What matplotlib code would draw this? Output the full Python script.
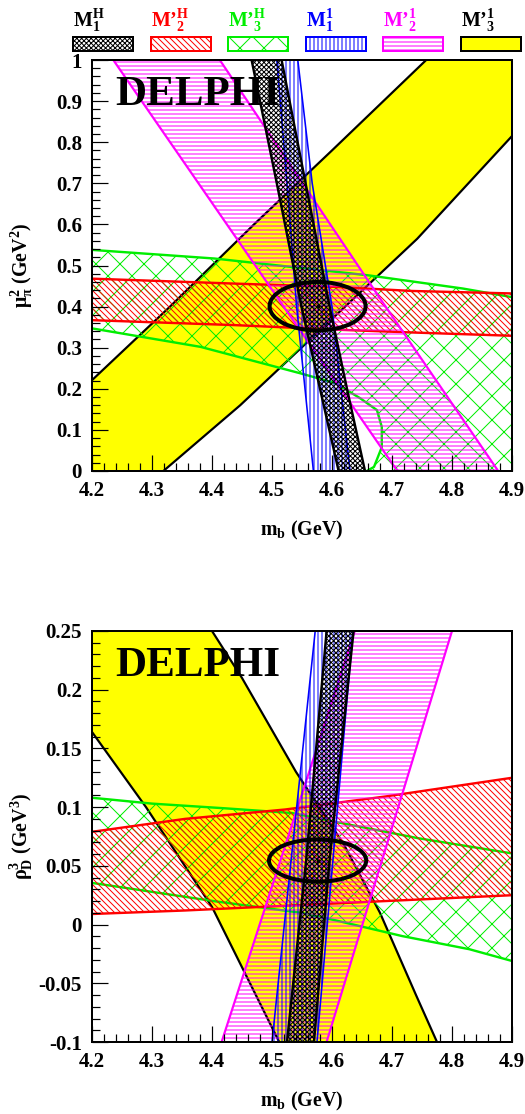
import matplotlib
matplotlib.use('Agg')
import matplotlib.pyplot as plt
from matplotlib.patches import Polygon, Ellipse, Rectangle
from matplotlib.ticker import FixedLocator, FixedFormatter, MultipleLocator

# ---------------- data ----------------
mb_range = [4.2, 4.9]
mu_range = [0.0, 1.0]
rho_range = [-0.1, 0.25]

mb_ticks = [4.2, 4.3, 4.4, 4.5, 4.6, 4.7, 4.8, 4.9]
mb_ticklabels = ['4.2', '4.3', '4.4', '4.5', '4.6', '4.7', '4.8', '4.9']
mu_ticks = [0.0, 0.1, 0.2, 0.3, 0.4, 0.5, 0.6, 0.7, 0.8, 0.9, 1.0]
mu_ticklabels = ['0', '0.1', '0.2', '0.3', '0.4', '0.5', '0.6', '0.7', '0.8', '0.9', '1']
rho_ticks = [-0.1, -0.05, 0.0, 0.05, 0.1, 0.15, 0.2, 0.25]
rho_ticklabels = ['-0.1', '-0.05', '0', '0.05', '0.1', '0.15', '0.2', '0.25']

legend_labels = ['M$^{H}_{1}$', 'M\u2019$^{H}_{2}$', 'M\u2019$^{H}_{3}$',
                 'M$^{1}_{1}$', 'M\u2019$^{1}_{2}$', 'M\u2019$^{1}_{3}$']

# ---- top panel: (m_b, mu_pi^2) ----
# M1^H (black) : near-vertical band, edges given as x at each y
m1h_mu_y = [1.0, 0.7, 0.4, 0.2, 0.0]
m1h_mu_left = [4.466, 4.508, 4.549, 4.580, 4.611]
m1h_mu_right = [4.516, 4.556, 4.596, 4.625, 4.655]
# M1^l (blue)
m1l_mu_y = [1.0, 0.7, 0.4, 0.0]
m1l_mu_left = [4.508, 4.525, 4.541, 4.569]
m1l_mu_right = [4.543, 4.567, 4.600, 4.630]
# M'2^l (magenta)
m2l_mu_y = [1.0, 0.42, 0.0]
m2l_mu_left = [4.2355, 4.51, 4.709]
m2l_mu_right = [4.413, 4.68, 4.877]
# M'2^H (red) : near-horizontal band
m2h_mu_x = [4.2, 4.437, 4.605, 4.734, 4.9]
m2h_mu_upper = [0.468, 0.456, 0.448, 0.438, 0.432]
m2h_mu_lower = [0.367, 0.355, 0.344, 0.337, 0.329]
# M'3^H (green)
m3h_mu_upper_x = [4.2, 4.404, 4.661, 4.818, 4.9]
m3h_mu_upper_y = [0.538, 0.517, 0.476, 0.444, 0.423]
m3h_mu_lower_x = [4.2, 4.381, 4.549, 4.605, 4.647, 4.675, 4.683, 4.683, 4.670, 4.658]
m3h_mu_lower_y = [0.347, 0.302, 0.237, 0.214, 0.177, 0.148, 0.107, 0.058, 0.010, 0.0]
# M'3^l (yellow)
m3l_mu_ul_x = [4.2, 4.33, 4.47, 4.60, 4.757]
m3l_mu_ul_y = [0.221, 0.40, 0.60, 0.78, 1.0]
m3l_mu_lr_x = [4.319, 4.447, 4.60, 4.742, 4.9]
m3l_mu_lr_y = [0.0, 0.16, 0.37, 0.565, 0.815]
# fit result
fit_mu_center = [4.576, 0.401]
fit_mu_semi = [0.080, 0.059]

# ---- bottom panel: (m_b, rho_D^3) ----
m1h_rho_y = [-0.1, 0.055, 0.25]
m1h_rho_left = [4.525, 4.557, 4.591]
m1h_rho_right = [4.570, 4.596, 4.636]
m1l_rho_y = [-0.1, 0.25]
m1l_rho_left = [4.500, 4.572]
m1l_rho_right = [4.575, 4.635]
m2l_rho_y = [-0.1, 0.25]
m2l_rho_left = [4.416, 4.638]
m2l_rho_right = [4.591, 4.800]
m2h_rho_x = [4.2, 4.355, 4.522, 4.688, 4.9]
m2h_rho_upper = [0.079, 0.090, 0.098, 0.109, 0.125]
m2h_rho_lower = [0.009, 0.012, 0.016, 0.020, 0.025]
m3h_rho_upper_x = [4.2, 4.3, 4.422, 4.533, 4.605, 4.743, 4.9]
m3h_rho_upper_y = [0.108, 0.103, 0.099, 0.095, 0.0875, 0.0736, 0.0606]
m3h_rho_lower_x = [4.2, 4.404, 4.549, 4.605, 4.717, 4.829, 4.9]
m3h_rho_lower_y = [0.0355, 0.0199, 0.010, 0.0037, -0.0098, -0.021, -0.031]
m3l_rho_l_x = [4.2, 4.29, 4.40, 4.512]
m3l_rho_l_y = [0.164, 0.100, 0.015, -0.1]
m3l_rho_r_x = [4.40, 4.45, 4.54, 4.62, 4.68, 4.74, 4.775]
m3l_rho_r_y = [0.25, 0.21, 0.13, 0.068, 0.01, -0.06, -0.1]
fit_rho_center = [4.576, 0.0545]
fit_rho_semi = [0.081, 0.018]

# ---------------- style ----------------
W, H, DPI = 525, 1114, 72
plt.rcParams['font.family'] = ['Liberation Serif', 'DejaVu Serif']
plt.rcParams['font.weight'] = 'bold'
plt.rcParams['axes.labelweight'] = 'bold'
plt.rcParams['mathtext.fontset'] = 'custom'
plt.rcParams['mathtext.rm'] = 'Liberation Serif:bold'
plt.rcParams['mathtext.it'] = 'Liberation Serif:bold'
plt.rcParams['mathtext.bf'] = 'Liberation Serif:bold'
plt.rcParams['mathtext.default'] = 'rm'
plt.rcParams['hatch.linewidth'] = 1.0

BLACK, RED, GREEN, BLUE, MAG, YEL = '#000000', '#ff0000', '#00ee00', '#0000ff', '#ff00ff', '#ffff00'
styles = [  # colour, hatch, facecolor, edge lw
    (BLACK, 'xxxxx', 'none', 2.4),
    (RED, '\\\\\\\\', 'none', 2.4),
    (GREEN, 'x', 'none', 2.4),
    (BLUE, '|||', 'none', 1.6),
    (MAG, '---', 'none', 2.2),
    (BLACK, None, YEL, 2.2),
]

fig = plt.figure(figsize=(W / DPI, H / DPI), dpi=DPI)


def px_axes(l, t, r, b):
    return fig.add_axes([l / W, 1 - b / H, (r - l) / W, (b - t) / H])


def fill_poly(ax, pts, color, hatch, face, z):
    if hatch:
        p = Polygon(pts, closed=True, facecolor='none', edgecolor=color,
                    hatch=hatch, lw=0, zorder=z)
    else:
        p = Polygon(pts, closed=True, facecolor=face, edgecolor='none', lw=0, zorder=z)
    ax.add_patch(p)


def edge(ax, xs, ys, color, lw, z):
    ax.plot(xs, ys, color=color, lw=lw, zorder=z + 0.1, solid_joinstyle='round')


def vband(ax, ys, left, right, st, z):
    color, hatch, face, lw = st
    pts = list(zip(left, ys)) + list(zip(right[::-1], ys[::-1]))
    fill_poly(ax, pts, color, hatch, face, z)
    edge(ax, left, ys, color, lw, z)
    edge(ax, right, ys, color, lw, z)


def hband(ax, ux, uy, lx, ly, st, z, corners=()):
    color, hatch, face, lw = st
    pts = list(zip(ux, uy)) + list(corners) + list(zip(lx[::-1], ly[::-1]))
    fill_poly(ax, pts, color, hatch, face, z)
    edge(ax, ux, uy, color, lw, z)
    edge(ax, lx, ly, color, lw, z)


def style_axes(ax, yr, yticks, ylabels, yminor, ylabel):
    ax.set_xlim(mb_range)
    ax.set_ylim(yr)
    ax.xaxis.set_major_locator(FixedLocator(mb_ticks))
    ax.xaxis.set_major_formatter(FixedFormatter(mb_ticklabels))
    ax.xaxis.set_minor_locator(MultipleLocator(0.02))
    ax.yaxis.set_major_locator(FixedLocator(yticks))
    ax.yaxis.set_major_formatter(FixedFormatter(ylabels))
    ax.yaxis.set_minor_locator(MultipleLocator(yminor))
    ax.tick_params(which='both', direction='in', top=False, right=False, width=1.2,
                   labelsize=21, pad=10)
    ax.tick_params(which='major', length=16)
    ax.tick_params(which='minor', length=8)
    for s in ax.spines.values():
        s.set_linewidth(2)
        s.set_zorder(20)
    ax.xaxis.set_zorder(19)
    ax.yaxis.set_zorder(19)
    ax.set_xlabel('m$_{b}$ (GeV)', fontsize=20, va='center')
    ax.xaxis.set_label_coords(0.5, -0.145)
    ax.set_ylabel(ylabel, fontsize=20, va='center')
    ax.yaxis.set_label_coords(-0.167, 0.5)
    ax.text(0.055, 0.89, 'DELPHI', transform=ax.transAxes, fontsize=43,
            fontweight='bold', ha='left', va='baseline', zorder=15)


# ---------- top panel ----------
ax1 = px_axes(92, 60, 512, 471)
x0, x1 = mb_range
y0, y1 = mu_range
# yellow M'3^l
pts = [(x0, y0)] + list(zip(m3l_mu_ul_x, m3l_mu_ul_y)) + [(x1, y1)] + \
      list(zip(m3l_mu_lr_x[::-1], m3l_mu_lr_y[::-1]))
fill_poly(ax1, pts, BLACK, None, YEL, 1)
edge(ax1, m3l_mu_ul_x, m3l_mu_ul_y, BLACK, 2.2, 1)
edge(ax1, m3l_mu_lr_x, m3l_mu_lr_y, BLACK, 2.2, 1)
# green M'3^H
hband(ax1, m3h_mu_upper_x, m3h_mu_upper_y, m3h_mu_lower_x, m3h_mu_lower_y,
      styles[2], 2, corners=[(x1, y0)])
# red M'2^H
hband(ax1, m2h_mu_x, m2h_mu_upper, m2h_mu_x, m2h_mu_lower, styles[1], 3)
# magenta M'2^l
vband(ax1, m2l_mu_y, m2l_mu_left, m2l_mu_right, styles[4], 4)
# blue M1^l
vband(ax1, m1l_mu_y, m1l_mu_left, m1l_mu_right, styles[3], 5)
# black M1^H
vband(ax1, m1h_mu_y, m1h_mu_left, m1h_mu_right, styles[0], 6)
ax1.add_patch(Ellipse(fit_mu_center, 2 * fit_mu_semi[0], 2 * fit_mu_semi[1],
                      facecolor='none', edgecolor=BLACK, lw=4, zorder=8))
ax1.plot([fit_mu_center[0]], [fit_mu_center[1]], 'o', color=BLACK, ms=3, zorder=8)
style_axes(ax1, mu_range, mu_ticks, mu_ticklabels, 0.02,
           r'$\mu^{2}_{\pi}$ (GeV$^{2}$)')

# ---------- bottom panel ----------
ax2 = px_axes(92, 631, 512, 1042)
r0, r1 = rho_range
pts = [(x0, r1)] + list(zip(m3l_rho_l_x, m3l_rho_l_y)) + \
      list(zip(m3l_rho_r_x[::-1], m3l_rho_r_y[::-1]))
fill_poly(ax2, pts, BLACK, None, YEL, 1)
edge(ax2, m3l_rho_l_x, m3l_rho_l_y, BLACK, 2.2, 1)
edge(ax2, m3l_rho_r_x, m3l_rho_r_y, BLACK, 2.2, 1)
hband(ax2, m3h_rho_upper_x, m3h_rho_upper_y, m3h_rho_lower_x, m3h_rho_lower_y, styles[2], 2)
hband(ax2, m2h_rho_x, m2h_rho_upper, m2h_rho_x, m2h_rho_lower, styles[1], 3)
vband(ax2, m2l_rho_y, m2l_rho_left, m2l_rho_right, styles[4], 4)
vband(ax2, m1l_rho_y, m1l_rho_left, m1l_rho_right, styles[3], 5)
vband(ax2, m1h_rho_y, m1h_rho_left, m1h_rho_right, styles[0], 6)
ax2.add_patch(Ellipse(fit_rho_center, 2 * fit_rho_semi[0], 2 * fit_rho_semi[1],
                      facecolor='none', edgecolor=BLACK, lw=4, zorder=8))
ax2.plot([fit_rho_center[0]], [fit_rho_center[1]], 'o', color=BLACK, ms=3, zorder=8)
style_axes(ax2, rho_range, rho_ticks, rho_ticklabels, 0.01,
           r'$\rho^{3}_{D}$ (GeV$^{3}$)')

# ---------- legend ----------
leg_left = [73, 151, 228, 306, 383, 461]
leg_text_colors = [BLACK, RED, GREEN, BLUE, MAG, BLACK]
for lab, xl, tc, st in zip(legend_labels, leg_left, leg_text_colors, styles):
    color, hatch, face, lw = st
    if hatch:
        r = Rectangle((xl / W, 1 - 51 / H), 60 / W, 14 / H, transform=fig.transFigure,
                      facecolor='white', edgecolor=color, hatch=hatch, lw=2)
    else:
        r = Rectangle((xl / W, 1 - 51 / H), 60 / W, 14 / H, transform=fig.transFigure,
                      facecolor=face, edgecolor=color, lw=2)
    fig.add_artist(r)
    fig.text(xl / W, 1 - 27 / H, lab, color=tc, fontsize=20, ha='left', va='baseline')

fig.savefig('out.png', dpi=DPI)
